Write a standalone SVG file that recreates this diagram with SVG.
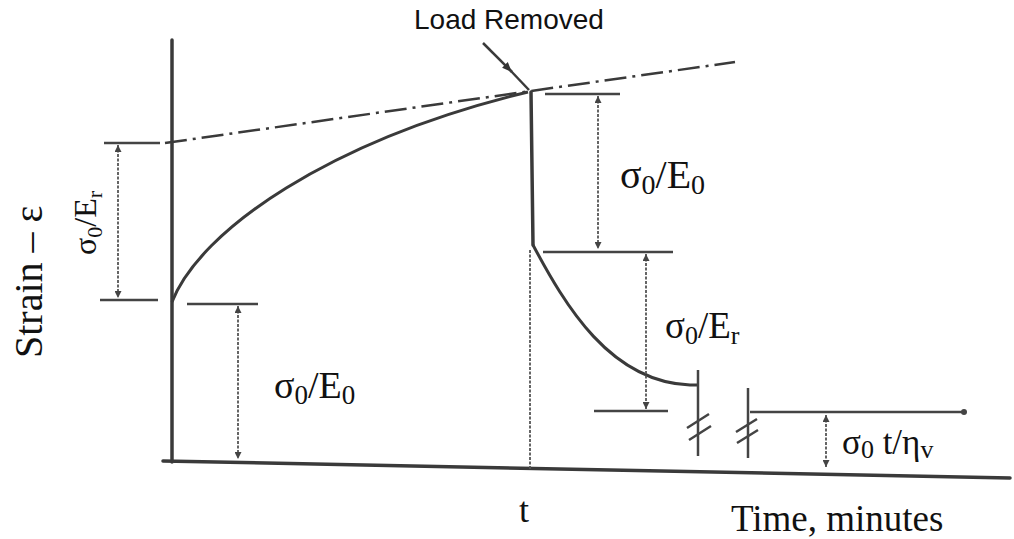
<svg xmlns="http://www.w3.org/2000/svg" width="1014" height="539" viewBox="0 0 1014 539">
<defs>
<style>
.ax{stroke:#3a3a3a;stroke-width:3.5;fill:none;stroke-linecap:round}
.ln{stroke:#3a3a3a;stroke-width:2.5;fill:none}
.cv{stroke:#3a3a3a;stroke-width:3;fill:none}
.dim{stroke:#555;stroke-width:1.8;fill:none;stroke-dasharray:3 1.5}
.tk{stroke:#444;stroke-width:2.5;fill:none}
.ser{font-family:"Liberation Serif","Times New Roman",serif;fill:#111}
.san{font-family:"Liberation Sans",Arial,sans-serif;fill:#111}
</style>
<marker id="ah" viewBox="0 0 10 10" refX="10" refY="5" markerWidth="7" markerHeight="7" orient="auto-start-reverse" markerUnits="userSpaceOnUse">
<path d="M0,0 L10,5 L0,10 z" fill="#444"/>
</marker>
<marker id="ld" viewBox="0 0 10 10" refX="10" refY="5" markerWidth="10" markerHeight="10" orient="auto" markerUnits="userSpaceOnUse">
<path d="M0,1 L10,5 L0,9 z" fill="#333"/>
</marker>
</defs>

<g id="axes">
<line class="ax" x1="172" y1="40" x2="172" y2="462"/>
<line class="ax" x1="163" y1="461" x2="1010" y2="478"/>
</g>

<g id="connectors">
<path class="cv" d="M172,302 C200,230 330,140 528,92"/>
<path class="ln" d="M165,143 L735,62" stroke-dasharray="22 6 3 6" stroke-width="2"/>
<line class="ax" x1="531" y1="92" x2="533" y2="245"/>
<line class="dim" x1="530" y1="250" x2="530" y2="470"/>
<path class="cv" d="M533,245 C565,305 610,382 690,385 L697,385"/>
<line class="tk" x1="104" y1="143" x2="160" y2="143"/>
<line class="tk" x1="100" y1="300" x2="158" y2="300"/>
<line class="dim" x1="118" y1="145" x2="118" y2="298" marker-start="url(#ah)" marker-end="url(#ah)"/>
<line class="tk" x1="187" y1="304" x2="258" y2="304"/>
<line class="dim" x1="238" y1="306" x2="238" y2="459" marker-start="url(#ah)" marker-end="url(#ah)"/>
<line class="tk" x1="545" y1="94" x2="620" y2="94"/>
<line class="dim" x1="598" y1="96" x2="598" y2="249" marker-start="url(#ah)" marker-end="url(#ah)"/>
<line class="tk" x1="543" y1="252" x2="673" y2="252"/>
<line class="dim" x1="646" y1="254" x2="646" y2="409" marker-start="url(#ah)" marker-end="url(#ah)"/>
<line class="tk" x1="594" y1="411" x2="668" y2="411"/>
<line class="tk" x1="698" y1="370" x2="698" y2="456" stroke-width="2"/>
<path class="tk" d="M687,428 L709,414 M689,440 L711,426" stroke-width="2.2"/>
<line class="tk" x1="748" y1="388" x2="748" y2="458" stroke-width="2"/>
<path class="tk" d="M736,432 L757,419 M737,443 L758,430" stroke-width="2.2"/>
<line class="tk" x1="750" y1="412" x2="962" y2="412"/>
<circle cx="964" cy="412" r="3" fill="#444"/>
<line class="dim" x1="826" y1="415" x2="826" y2="467" marker-start="url(#ah)" marker-end="url(#ah)"/>
<line class="ln" x1="483" y1="43" x2="512" y2="72" stroke-width="2" marker-end="url(#ld)"/>
<line class="ln" x1="510" y1="70" x2="529" y2="90" stroke-width="2.5"/>
</g>

<g id="labels">
<text class="san" x="414" y="29" font-size="28">Load Removed</text>
<text class="ser" transform="translate(42,358) rotate(-90)" font-size="40">Strain – ε</text>
<text class="ser" transform="translate(96,255) rotate(-90)" font-size="32">σ<tspan font-size="22" dy="6">0</tspan><tspan dy="-6">/E</tspan><tspan font-size="22" dy="6">r</tspan></text>
<text class="ser" x="274" y="398" font-size="38">σ<tspan font-size="27" dy="6">0</tspan><tspan dy="-6">/E</tspan><tspan font-size="27" dy="6">0</tspan></text>
<text class="ser" x="620" y="188" font-size="40">σ<tspan font-size="28" dy="6">0</tspan><tspan dy="-6">/E</tspan><tspan font-size="28" dy="6">0</tspan></text>
<text class="ser" x="665" y="338" font-size="37">σ<tspan font-size="26" dy="6">0</tspan><tspan dy="-6">/E</tspan><tspan font-size="26" dy="6">r</tspan></text>
<text class="ser" x="842" y="454" font-size="35">σ<tspan font-size="26" dy="4">0</tspan><tspan dy="-4"> t/η</tspan><tspan font-size="26" dy="4">v</tspan></text>
<text class="ser" x="519" y="522" font-size="36">t</text>
<text class="ser" x="731" y="531" font-size="37">Time, minutes</text>
</g>
</svg>
